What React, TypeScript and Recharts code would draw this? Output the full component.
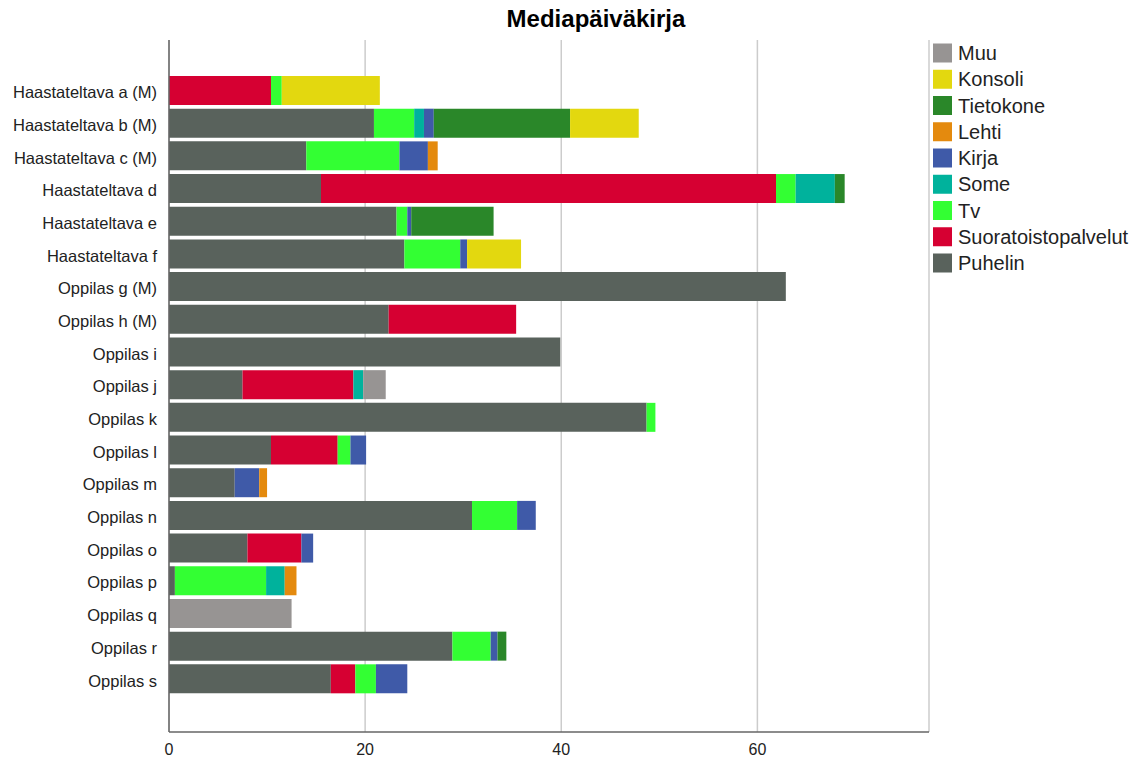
import React from 'react';
import { BarChart, Bar, XAxis, YAxis, CartesianGrid } from 'recharts';

const categories = [
  'Haastateltava a (M)', 'Haastateltava b (M)', 'Haastateltava c (M)', 'Haastateltava d',
  'Haastateltava e', 'Haastateltava f', 'Oppilas g (M)', 'Oppilas h (M)', 'Oppilas i',
  'Oppilas j', 'Oppilas k', 'Oppilas l', 'Oppilas m', 'Oppilas n', 'Oppilas o',
  'Oppilas p', 'Oppilas q', 'Oppilas r', 'Oppilas s',
];

const puhelin = [0, 20.9, 14.0, 15.5, 23.2, 24.0, 62.9, 22.4, 39.9, 7.5, 48.7, 10.4, 6.7, 30.9, 8.0, 0.6, 0, 28.9, 16.5];
const suoratoisto = [10.4, 0, 0, 46.4, 0, 0, 0, 13.0, 0, 11.3, 0, 6.8, 0, 0, 5.5, 0, 0, 0, 2.5];
const tv = [1.1, 4.1, 9.5, 2.0, 1.1, 5.7, 0, 0, 0, 0, 0.9, 1.3, 0, 4.6, 0, 9.3, 0, 3.9, 2.1];
const some = [0, 1.0, 0, 4.0, 0, 0, 0, 0, 0, 1.0, 0, 0, 0, 0, 0, 1.9, 0, 0, 0];
const kirja = [0, 1.0, 2.9, 0, 0.4, 0.7, 0, 0, 0, 0, 0, 1.6, 2.5, 1.9, 1.2, 0, 0, 0.7, 3.2];
const lehti = [0, 0, 1.0, 0, 0, 0, 0, 0, 0, 0, 0, 0, 0.8, 0, 0, 1.2, 0, 0, 0];
const tietokone = [0, 13.9, 0, 1.0, 8.4, 0, 0, 0, 0, 0, 0, 0, 0, 0, 0, 0, 0, 0.9, 0];
const konsoli = [10.0, 7.0, 0, 0, 0, 5.5, 0, 0, 0, 0, 0, 0, 0, 0, 0, 0, 0, 0, 0];
const muu = [0, 0, 0, 0, 0, 0, 0, 0, 0, 2.3, 0, 0, 0, 0, 0, 0, 12.5, 0, 0];

const xTicks = [0, 20, 40, 60];

// stack order (left to right)
const SERIES = [
  { key: 'Puhelin', values: puhelin, color: '#59625c' },
  { key: 'Suoratoistopalvelut', values: suoratoisto, color: '#d60032' },
  { key: 'Tv', values: tv, color: '#33ff33' },
  { key: 'Some', values: some, color: '#00b29c' },
  { key: 'Kirja', values: kirja, color: '#3f5aa8' },
  { key: 'Lehti', values: lehti, color: '#e48a0e' },
  { key: 'Tietokone', values: tietokone, color: '#2a8729' },
  { key: 'Konsoli', values: konsoli, color: '#e3d80f' },
  { key: 'Muu', values: muu, color: '#979493' },
];

const data = categories.map((name, i) => {
  const row: Record<string, any> = { name };
  SERIES.forEach((s) => { row[s.key] = s.values[i]; });
  return row;
});

const FONT = "'Liberation Sans', Arial, sans-serif";

export default function App() {
  const legendItems = [...SERIES].reverse();
  return (
    <div style={{ position: 'absolute', left: 0, top: 0, width: 1141, height: 762, background: '#fff', fontFamily: FONT }}>
      <BarChart
        width={1141}
        height={762}
        data={data}
        layout="vertical"
        margin={{ top: 40, right: 212, bottom: 0, left: 0 }}
        barSize={29}
      >
        <CartesianGrid horizontal={false} vertical stroke="#cccccc" strokeWidth={1.5} />
        <XAxis
          type="number"
          domain={[0, 77.5]}
          ticks={xTicks}
          allowDataOverflow
          height={30}
          tickSize={0}
          tickMargin={12}
          axisLine={{ stroke: '#666666', strokeWidth: 1.5 }}
          tickLine={false}
          tick={{ fontSize: 16, fill: '#222', fontFamily: FONT }}
        />
        <YAxis
          type="category"
          dataKey="name"
          width={169}
          padding={{ top: 34, bottom: 37 }}
          tickSize={0}
          tickMargin={12}
          tickLine={false}
          interval={0}
          axisLine={{ stroke: '#666666', strokeWidth: 1.5 }}
          tick={{ fontSize: 16.5, fill: '#222', fontFamily: FONT, dy: 2 }}
        />
        {SERIES.map((s) => (
          <Bar key={s.key} dataKey={s.key} stackId="a" fill={s.color} isAnimationActive={false} />
        ))}
      </BarChart>
      <svg width={1141} height={762} style={{ position: 'absolute', left: 0, top: 0, pointerEvents: 'none' }}>
        <text x={596} y={27} textAnchor="middle" fontSize={24} fontWeight="bold" fontFamily={FONT} fill="#000">
          Mediapäiväkirja
        </text>
        {legendItems.map((s, i) => {
          const cy = 53 + i * 26.25;
          return (
            <g key={s.key}>
              <rect x={933} y={cy - 9.5} width={19} height={19} fill={s.color} />
              <text x={958} y={cy + 7} fontSize={20} fontFamily={FONT} fill="#222">{s.key}</text>
            </g>
          );
        })}
      </svg>
    </div>
  );
}
